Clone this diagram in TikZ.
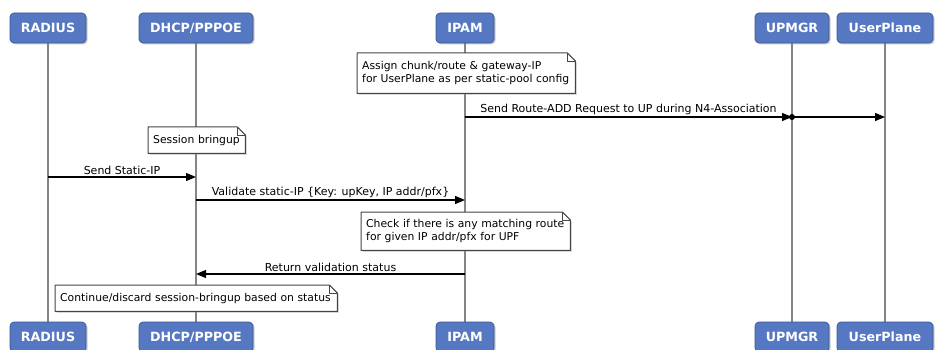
\documentclass[tikz,border=0pt]{standalone}
\usepackage{fontspec}
\setmainfont{DejaVu Sans}
\usetikzlibrary{arrows.meta,shadows,backgrounds}
\definecolor{boxblue}{HTML}{5677C2}
\definecolor{boxline}{HTML}{3A5894}
\definecolor{lifegray}{HTML}{858585}
\definecolor{notegray}{HTML}{444444}
\begin{document}
\begin{tikzpicture}[x=1pt,y=-1pt,
  actor/.style={rectangle, rounded corners=4pt, fill=boxblue, draw=boxline, line width=0.7pt,
    text=white, font=\bfseries\fontsize{12.7}{14}\selectfont, minimum height=30pt, inner sep=0pt,
    drop shadow={shadow xshift=1.5pt, shadow yshift=-1.5pt, opacity=0.4}},
  life/.style={draw=lifegray, line width=1.1pt},
  notetext/.style={anchor=north west, align=left, inner xsep=5pt, inner ysep=0pt,
    font=\fontsize{10.8}{13.5}\selectfont},
  noteshape/.style={fill=white, draw=notegray, line width=1pt, line join=round,
    drop shadow={shadow xshift=1.5pt, shadow yshift=-1.5pt, opacity=0.3}},
  notefold/.style={draw=notegray, line width=0.8pt, line join=round},
  msg/.style={draw=black, line width=1.2pt, -{Triangle[length=10pt,width=8pt]}},
  msglabel/.style={font=\fontsize{11}{12}\selectfont, anchor=south, inner sep=1.5pt}
]
\useasboundingbox (0,0) rectangle (948,350);

% participants (top)
\node[actor, minimum width=76pt]  (RADt)  at (48,28)  {RADIUS};
\node[actor, minimum width=114pt] (DHCPt) at (196,28) {DHCP/PPPOE};
\node[actor, minimum width=58pt]  (IPAMt) at (465,28) {IPAM};
\node[actor, minimum width=74pt]  (UPMt)  at (792,28) {UPMGR};
\node[actor, minimum width=96pt]  (UPt)   at (885,28) {UserPlane};
% participants (bottom)
\node[actor, minimum width=76pt]  (RADb)  at (48,337)  {RADIUS};
\node[actor, minimum width=114pt] (DHCPb) at (196,337) {DHCP/PPPOE};
\node[actor, minimum width=58pt]  (IPAMb) at (465,337) {IPAM};
\node[actor, minimum width=74pt]  (UPMb)  at (792,337) {UPMGR};
\node[actor, minimum width=96pt]  (UPb)   at (885,337) {UserPlane};

% notes (text)
\node[notetext, text width=208pt, minimum height=40pt] (nAssign) at (357,53)
  {Assign chunk/route \& gateway-IP\\for UserPlane as per static-pool config};
\node[notetext, text width=87pt, minimum height=26pt] (nSess) at (148,127)
  {Session bringup};
\node[notetext, text width=199pt, minimum height=38pt] (nCheck) at (361,212)
  {Check if there is any matching route\\for given IP addr/pfx for UPF};
\node[notetext, text width=272pt, minimum height=26pt] (nCont) at (55,285)
  {Continue/discard session-bringup based on status};

\begin{scope}[on background layer]
  \fill[white] (0,0) rectangle (948,350);
  \draw[life] (RADt.south)  -- (RADb.north);
  \draw[life] (DHCPt.south) -- (DHCPb.north);
  \draw[life] (IPAMt.south) -- (IPAMb.north);
  \draw[life] (UPMt.south)  -- (UPMb.north);
  \draw[life] (UPt.south)   -- (UPb.north);
  \foreach \n in {nAssign,nSess,nCheck,nCont}{
    \draw[noteshape] (\n.north west) -- ([xshift=-8pt]\n.north east)
      -- ([yshift=-8pt]\n.north east) -- (\n.south east) -- (\n.south west) -- cycle;
    \draw[notefold] ([xshift=-8pt]\n.north east) -- ([xshift=-8pt,yshift=-8pt]\n.north east)
      -- ([yshift=-8pt]\n.north east);
  }
\end{scope}

% message levels
\coordinate (yRoute) at (0,117);
\coordinate (yStatic) at (0,177);
\coordinate (yValid) at (0,200);
\coordinate (yRet) at (0,274);

\draw[msg] (IPAMt.south |- yRoute) -- node[msglabel]{Send Route-ADD Request to UP during N4-Association} (UPMt.south |- yRoute);
\coordinate (dotUPM) at (UPMt.south |- yRoute);
\fill (dotUPM) circle (3pt);
\draw[msg] (dotUPM) -- (UPt.south |- yRoute);

\draw[msg] (RADt.south |- yStatic) -- node[msglabel]{Send Static-IP} (DHCPt.south |- yStatic);
\draw[msg] (DHCPt.south |- yValid) -- node[msglabel]{Validate static-IP \{Key: upKey, IP addr/pfx\}} (IPAMt.south |- yValid);
\draw[msg] (IPAMt.south |- yRet) -- node[msglabel]{Return validation status} (DHCPt.south |- yRet);
\end{tikzpicture}
\end{document}
